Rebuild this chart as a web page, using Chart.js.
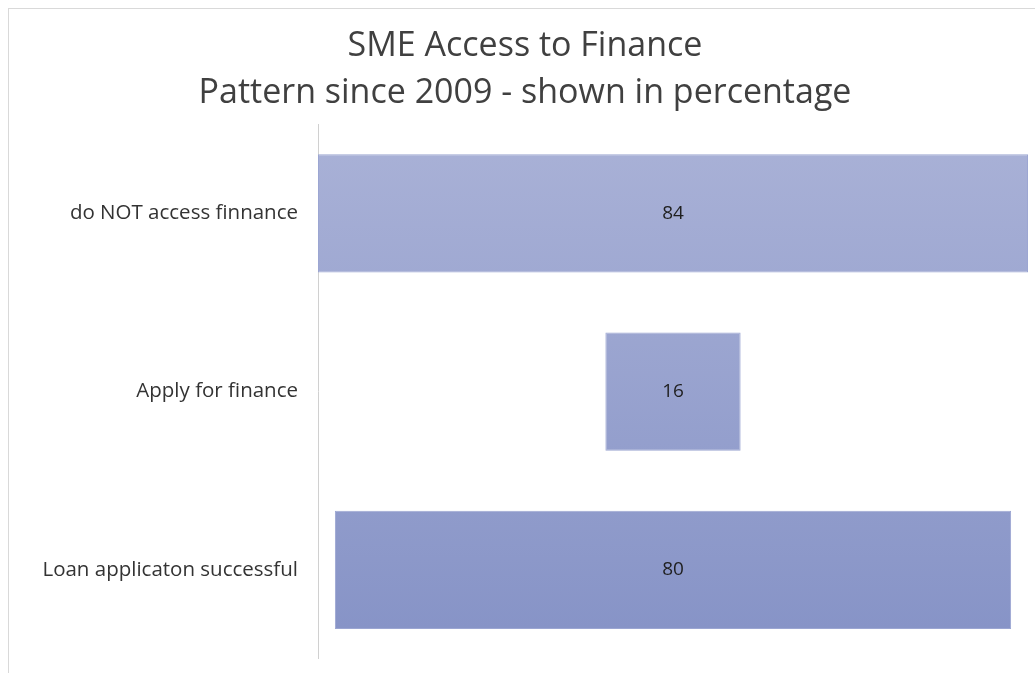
<!DOCTYPE html>
<html>
<head>
<meta charset="utf-8">
<script src="https://cdn.jsdelivr.net/npm/chart.js@4"></script>
<style>
  html, body { margin: 0; padding: 0; background: #fff; }
  #wrap { position: relative; width: 1035px; height: 673px; overflow: hidden; }
  #frame { position: absolute; left: 8px; top: 8px; width: 1100px; height: 700px; border: 1px solid #d9d9d9; box-sizing: border-box; }
  #box { position: absolute; left: 0; top: 0; width: 1035px; height: 673px; }
</style>
</head>
<body>
<div id="wrap">
  <div id="frame"></div>
  <div id="box"><canvas id="chart"></canvas></div>
</div>
<script>
// funnel stages, top to bottom
var stages = ['do NOT access finnance', 'Apply for finance', 'Loan applicaton successful'];
var percentages = [84, 16, 80];

// each bar floats around the middle of the widest one
var widest = Math.max.apply(null, percentages);
var spans = percentages.map(function (v) {
  return [(widest - v) / 2, (widest + v) / 2];
});

function barGradient(context) {
  var chart = context.chart;
  var area = chart.chartArea;
  if (!area) return '#9aa5d0';
  var g = chart.ctx.createLinearGradient(0, area.top, 0, area.bottom);
  g.addColorStop(0, '#aab2d7');
  g.addColorStop(1, '#8592c6');
  return g;
}

// value written in the middle of each bar
var centreLabels = {
  id: 'centreLabels',
  afterDatasetsDraw: function (chart) {
    var ctx = chart.ctx;
    var meta = chart.getDatasetMeta(0);
    ctx.save();
    ctx.font = '19px "Open Sans"';
    ctx.fillStyle = '#1f1f1f';
    ctx.textAlign = 'center';
    ctx.textBaseline = 'middle';
    meta.data.forEach(function (bar, i) {
      var p = bar.getProps(['x', 'y', 'base'], true);
      ctx.fillText(String(percentages[i]), (p.x + p.base) / 2, p.y);
    });
    ctx.restore();
  }
};

new Chart(document.getElementById('chart'), {
  type: 'bar',
  data: {
    labels: stages,
    datasets: [{
      data: spans,
      backgroundColor: barGradient,
      borderColor: '#9ca6d2',
      borderWidth: 1,
      borderSkipped: false,
      categoryPercentage: 1,
      barPercentage: 0.663
    }]
  },
  options: {
    indexAxis: 'y',
    responsive: true,
    maintainAspectRatio: false,
    animation: false,
    layout: { padding: { left: 22, right: 7, top: 20, bottom: 14 } },
    plugins: {
      legend: { display: false },
      tooltip: { enabled: false },
      title: {
        display: true,
        text: ['SME Access to Finance', 'Pattern since 2009 - shown in percentage'],
        color: '#404040',
        font: { family: 'Open Sans', size: 34, weight: 'normal', lineHeight: 1.37 },
        padding: { top: 3, bottom: 8 }
      }
    },
    scales: {
      x: {
        display: false,
        min: 0,
        max: widest
      },
      y: {
        afterFit: function (scale) {
          scale.width = 296;
          scale.paddingTop = 0;
          scale.paddingBottom = 0;
        },
        grid: { display: false, drawTicks: false },
        border: { display: true, color: '#d0d0d0', width: 1, dash: [4, 3] },
        ticks: {
          color: '#333333',
          padding: 20,
          font: { family: 'Open Sans', size: 20.5 }
        }
      }
    }
  },
  plugins: [centreLabels]
});
</script>
</body>
</html>
